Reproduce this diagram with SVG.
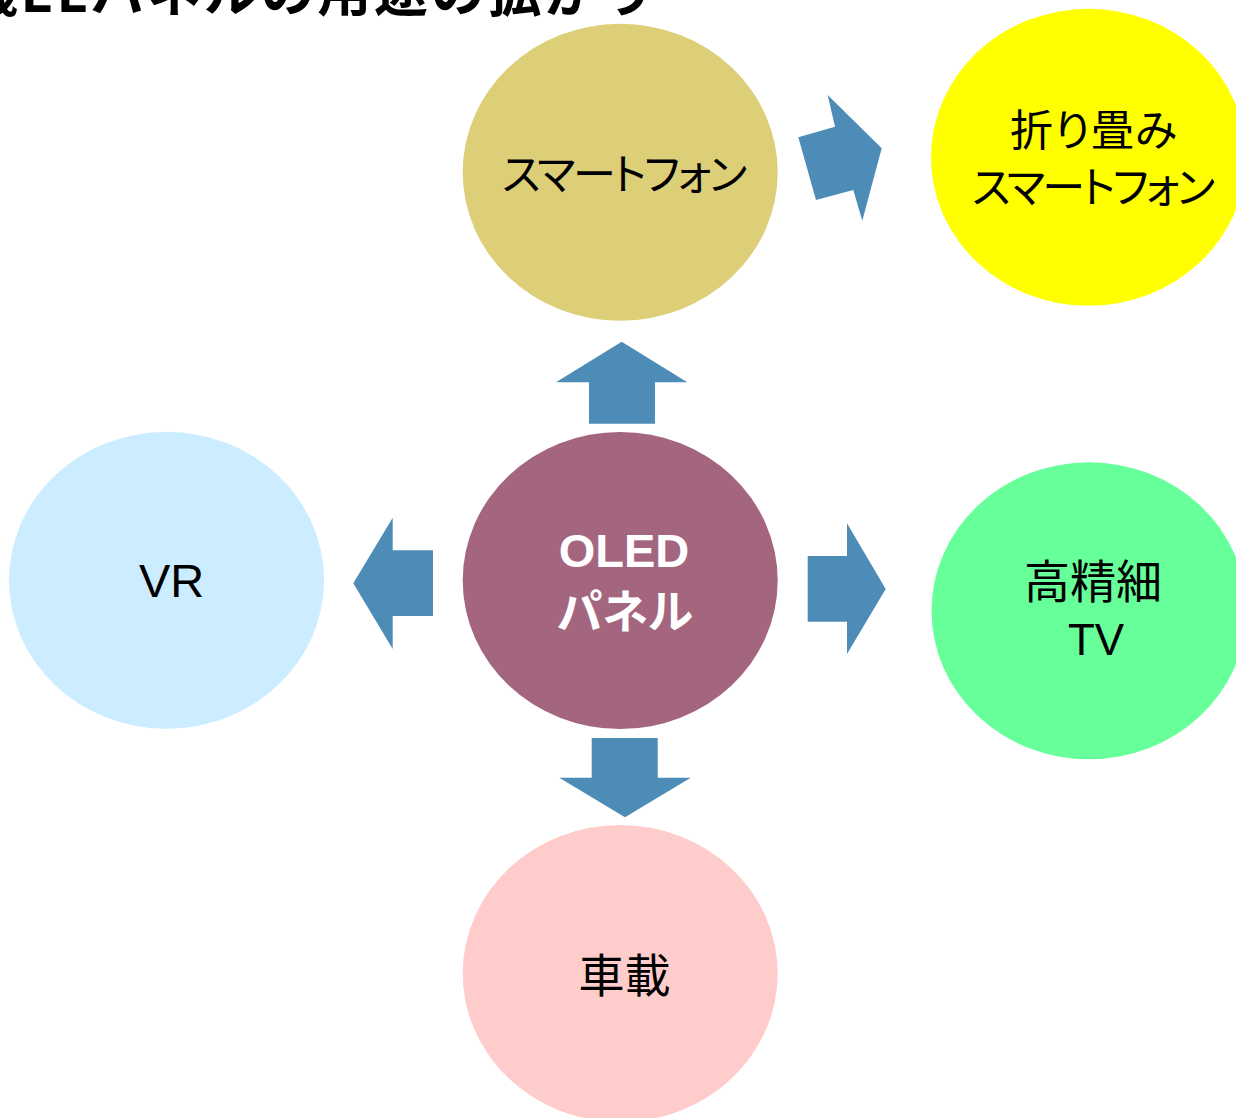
<svg xmlns="http://www.w3.org/2000/svg" width="1236" height="1118" viewBox="0 0 1236 1118">
<style>
.jp{font-family:"Noto Sans CJK JP","Noto Sans",sans-serif;font-size:46px;fill:#000;font-feature-settings:"palt";}
.kana{font-size:43px;}
.lat{font-family:"Liberation Sans",Arial,sans-serif;fill:#000;}
.arrow{fill:#4D8CB6;}
.title{font-family:"Noto Sans CJK JP","Noto Sans",sans-serif;font-size:54px;font-weight:bold;fill:#000;}
</style>
<rect width="1236" height="1118" fill="#fff"/>
<text class="title" x="-93" y="12" textLength="748" lengthAdjust="spacing">有機ELパネルの用途の拡がり</text>
<g id="connectors">
<polygon class="arrow" points="621.7,341.7 687.3,382.3 655,382.3 655,423.7 589,423.7 589,382.3 556,382.3"/>
<polygon class="arrow" points="353.3,583.3 392.7,517.7 392.7,550.3 433,550.3 433,616 392.7,616 392.7,649"/>
<polygon class="arrow" points="885.7,589 847,654 847,621.7 807.7,621.7 807.7,556 847,556 847,523.3"/>
<polygon class="arrow" points="625,817.3 559.3,777.7 591.7,777.7 591.7,738 657.7,738 657.7,777.7 690.7,777.7"/>
<polygon class="arrow" points="881.7,148.3 862.3,220.7 853.3,190 816,200 798.3,137.3 835,126.7 827.7,95"/>
</g>
<g id="smartphone">
<ellipse cx="620.2" cy="172.3" rx="157.5" ry="148.5" fill="#DDCE78"/>
<text class="jp kana" x="502" y="190" textLength="245" lengthAdjust="spacing">スマートフォン</text>
</g>
<g id="foldable">
<ellipse cx="1088.5" cy="157.3" rx="157.5" ry="148.5" fill="#FFFF00"/>
<text class="jp kana" x="1010" y="146" textLength="167" lengthAdjust="spacing">折り畳み</text>
<text class="jp kana" x="972" y="203" textLength="243" lengthAdjust="spacing">スマートフォン</text>
</g>
<g id="oled">
<ellipse cx="620.2" cy="580.5" rx="157.5" ry="148.5" fill="#A4667F"/>
<text class="lat" x="624" y="567" font-size="47" font-weight="bold" text-anchor="middle" style="fill:#fff">OLED</text>
<text class="jp" x="625" y="628" text-anchor="middle" style="fill:#fff;font-size:46px;font-weight:bold">パネル</text>
</g>
<g id="vr">
<ellipse cx="166.5" cy="580.3" rx="157.5" ry="148.5" fill="#CCECFF"/>
<text class="lat" x="139" y="597" font-size="47">VR</text>
</g>
<g id="tv">
<ellipse cx="1089" cy="610.8" rx="157.5" ry="148.5" fill="#66FF99"/>
<text class="jp" x="1093" y="598" text-anchor="middle">高精細</text>
<text class="lat" x="1096" y="655" font-size="44" text-anchor="middle">TV</text>
</g>
<g id="automotive">
<ellipse cx="620.2" cy="973.5" rx="157.5" ry="148.5" fill="#FFCCCC"/>
<text class="jp" x="624.5" y="992" text-anchor="middle">車載</text>
</g>
</svg>
